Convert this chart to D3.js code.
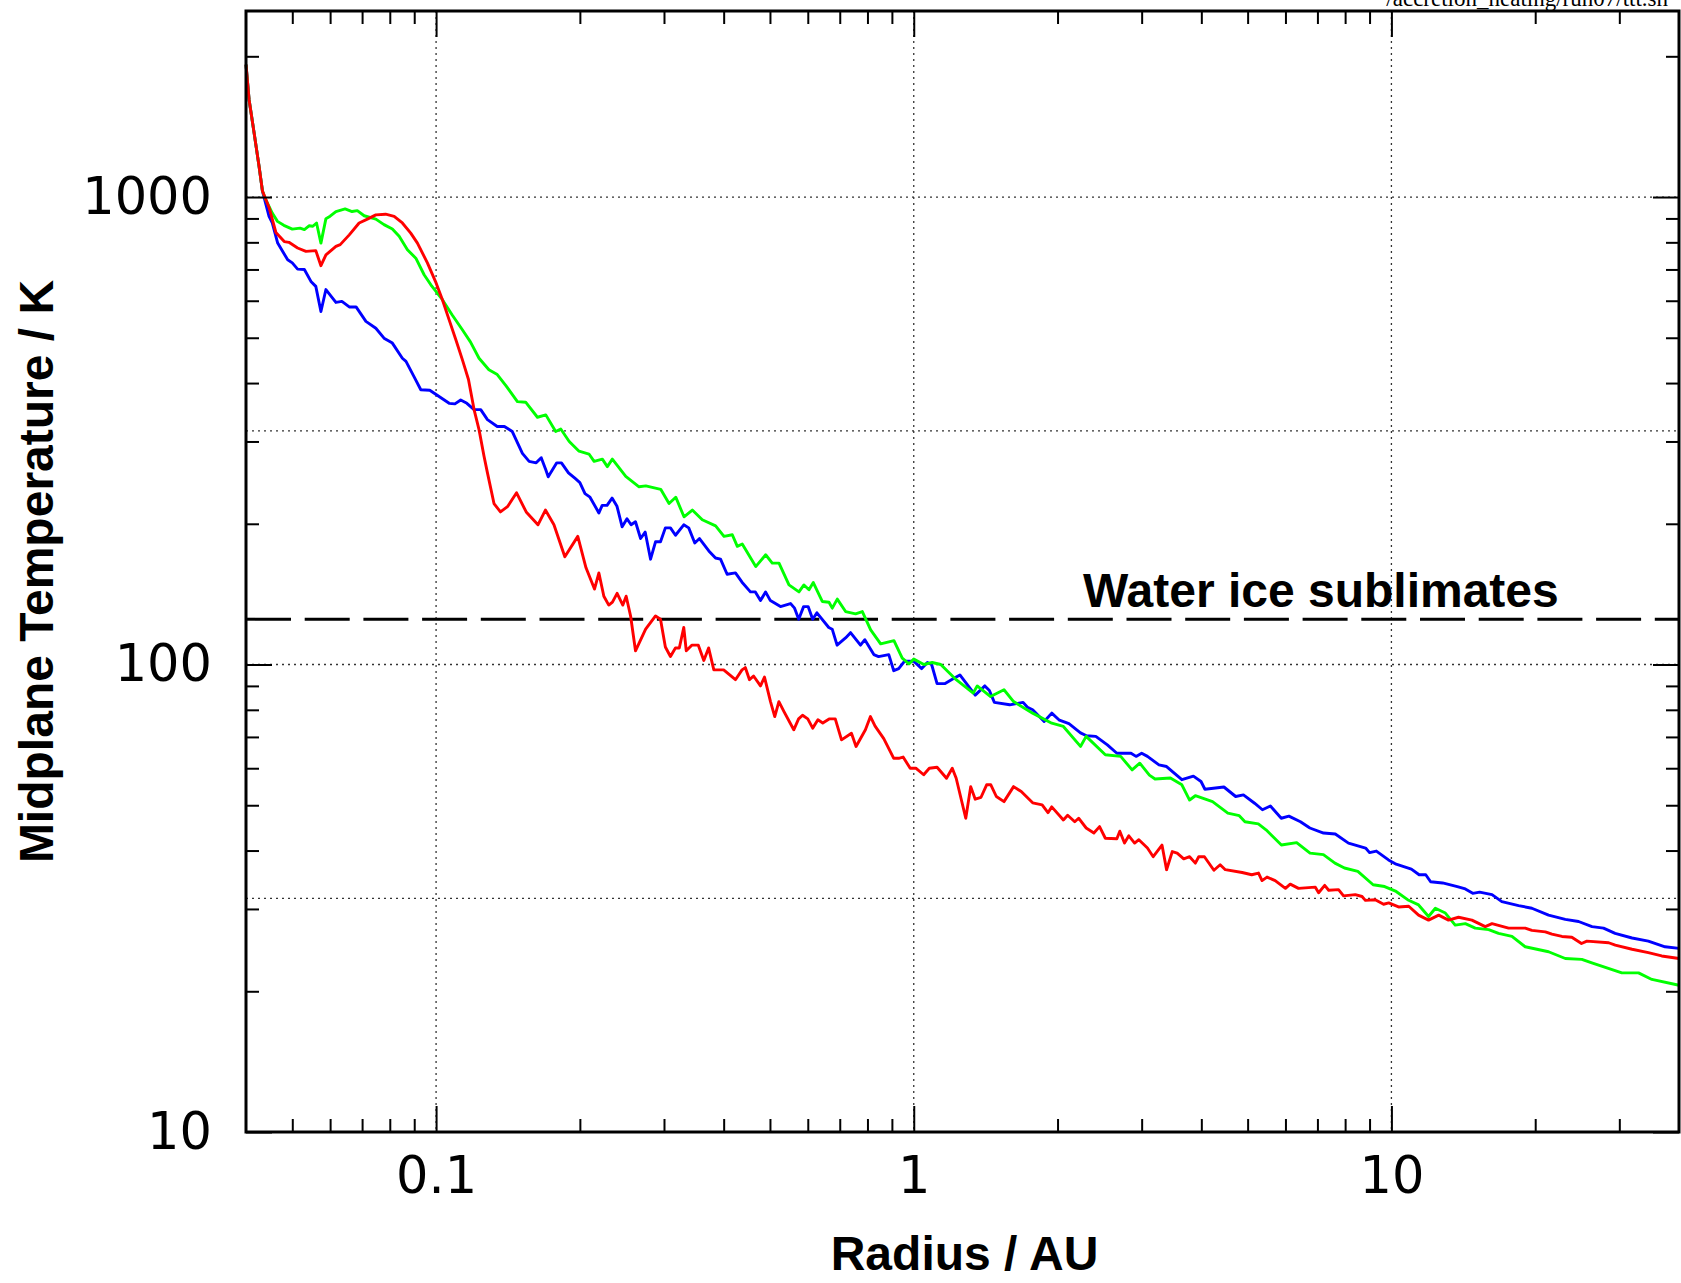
<!DOCTYPE html>
<html>
<head>
<meta charset="utf-8">
<script src="https://cdn.jsdelivr.net/npm/d3@7"></script>
<style>
  html, body { margin: 0; padding: 0; background: #fff; }
  svg { display: block; }
</style>
</head>
<body>
<div id="chart"></div>
<script>
// Midplane temperature against radius, three runs: [radius AU, temperature K]
const blueRun = [
  [0.04, 1920], [0.0406, 1615], [0.0416, 1370], [0.0426, 1163], [0.0433, 1030],
  [0.0447, 909], [0.0454, 880], [0.0466, 797], [0.0489, 734], [0.05, 723],
  [0.0513, 701], [0.053, 700], [0.0547, 660], [0.056, 644], [0.0574, 569],
  [0.0588, 634], [0.0617, 595], [0.0635, 598], [0.0658, 582], [0.068, 582],
  [0.0713, 542], [0.0748, 524], [0.0778, 499], [0.081, 487], [0.085, 452],
  [0.0865, 445], [0.0899, 413], [0.0929, 387], [0.097, 386], [0.1, 378],
  [0.1065, 362], [0.1095, 361], [0.1126, 368], [0.116, 362], [0.1201, 351],
  [0.124, 351], [0.1281, 334], [0.1343, 323], [0.139, 323], [0.1444, 315],
  [0.1516, 283], [0.1566, 272], [0.162, 270], [0.166, 277], [0.1697, 261],
  [0.1717, 252], [0.1789, 270], [0.183, 270], [0.1893, 257], [0.1955, 250],
  [0.2, 245], [0.205, 232], [0.21, 228], [0.2192, 211], [0.2227, 219],
  [0.228, 219], [0.2336, 227], [0.2392, 218], [0.2452, 197], [0.251, 205],
  [0.256, 199], [0.2615, 202], [0.268, 186], [0.274, 192], [0.2812, 168],
  [0.288, 183], [0.295, 183], [0.302, 196], [0.3095, 196], [0.3171, 189],
  [0.33, 199], [0.338, 196], [0.348, 182], [0.356, 186], [0.3724, 175],
  [0.3846, 169], [0.394, 168], [0.4067, 156], [0.4234, 157], [0.437, 150],
  [0.4551, 143], [0.466, 143], [0.4777, 137], [0.4895, 143], [0.501, 137],
  [0.526, 133], [0.552, 135], [0.563, 132], [0.5743, 125], [0.588, 133],
  [0.601, 133], [0.6144, 125], [0.627, 129], [0.6639, 120], [0.675, 119],
  [0.691, 110], [0.7198, 114], [0.7373, 117], [0.7736, 110], [0.79, 113],
  [0.8249, 105], [0.844, 104], [0.8866, 105], [0.9081, 97], [0.93, 98],
  [0.956, 101.6], [1.0, 101.6], [1.039, 98], [1.068, 101], [1.09, 100],
  [1.119, 91], [1.161, 91], [1.204, 93], [1.249, 95], [1.345, 86],
  [1.409, 90], [1.44, 88], [1.475, 83], [1.588, 82], [1.694, 83],
  [1.73, 81], [1.774, 80], [1.875, 75.5], [1.945, 78.7], [2.018, 76],
  [2.113, 74.7], [2.234, 71.4], [2.3, 70.4], [2.405, 70.2], [2.543, 67.3],
  [2.662, 64.6], [2.85, 64.6], [2.92, 63.6], [3.0, 64.6], [3.085, 63.6],
  [3.261, 61], [3.383, 60.5], [3.642, 56.7], [3.85, 57.7], [3.994, 56.2],
  [4.07, 54.1], [4.46, 54.7], [4.72, 52.2], [4.9, 52.6], [5.17, 50.5],
  [5.37, 48.9], [5.58, 49.8], [5.88, 46.9], [6.1, 47.4], [6.45, 46.1],
  [6.75, 44.7], [7.21, 43.6], [7.63, 43.4], [8.13, 41.5], [8.83, 40.5],
  [9.0, 39.6], [9.3, 39.9], [9.86, 38.2], [10.23, 37.4], [11.01, 36.5],
  [11.43, 35.5], [11.8, 35.5], [12.08, 34.3], [12.8, 34.1], [13.74, 33.5],
  [14.28, 33.1], [14.8, 32.4], [15.3, 32.6], [16.24, 32.2], [17.03, 31.1],
  [18.46, 30.5], [19.68, 30.1], [21.33, 29.1], [23.12, 28.5], [24.65, 28.2],
  [26.3, 27.5], [27.8, 27.3], [29.4, 26.6], [31.9, 26.0], [34.5, 25.6],
  [37.4, 24.9], [40, 24.7]
];

const greenRun = [
  [0.04, 1920], [0.0406, 1615], [0.0416, 1370], [0.0426, 1163], [0.0433, 1030],
  [0.044, 987], [0.0454, 924], [0.04655, 887], [0.048, 870], [0.05, 854],
  [0.0519, 858], [0.053, 852], [0.0542, 868], [0.0552, 866], [0.0562, 880],
  [0.0574, 797], [0.0588, 899], [0.06, 910], [0.0617, 931], [0.0645, 943],
  [0.0667, 931], [0.0684, 935], [0.0707, 912], [0.0748, 897], [0.0778, 873],
  [0.081, 854], [0.0837, 824], [0.0871, 771], [0.0907, 740], [0.0944, 682],
  [0.0975, 649], [0.1006, 623], [0.1031, 603], [0.108, 560], [0.1135, 520],
  [0.118, 490], [0.123, 452], [0.129, 427], [0.1343, 417], [0.14, 395],
  [0.148, 365], [0.154, 364], [0.163, 338], [0.1697, 342], [0.178, 315],
  [0.1824, 319], [0.19, 300], [0.1992, 286], [0.209, 282], [0.2142, 272],
  [0.2229, 275], [0.2283, 265], [0.2339, 275], [0.2495, 252.5], [0.266, 240],
  [0.2748, 241], [0.2953, 237], [0.3074, 221], [0.3175, 228], [0.3304, 207],
  [0.3439, 214], [0.3608, 204], [0.3848, 198], [0.4006, 188], [0.417, 189.5],
  [0.4272, 179], [0.4375, 181], [0.4669, 162], [0.4898, 171.7], [0.5056, 164.8],
  [0.5223, 164.8], [0.548, 148], [0.575, 143], [0.589, 148], [0.6035, 144.5],
  [0.6162, 149.7], [0.6434, 136.4], [0.6646, 135.9], [0.6752, 132], [0.6917, 138],
  [0.72, 129.8], [0.7555, 128.3], [0.7805, 129.8], [0.8125, 118.6], [0.8525, 110.7],
  [0.909, 112.5], [0.946, 103.2], [0.977, 100.3], [1.0, 102.7], [1.05, 100],
  [1.093, 101], [1.139, 100], [1.227, 92.8], [1.332, 86.9], [1.358, 90],
  [1.448, 85.4], [1.545, 88.3], [1.618, 83.3], [1.774, 78.7], [1.945, 74.9],
  [2.057, 73.7], [2.234, 66.8], [2.296, 70.2], [2.518, 64.1], [2.712, 63.6],
  [2.865, 59.5], [2.973, 61.5], [3.114, 58], [3.2, 56.9], [3.446, 57.2],
  [3.642, 55.3], [3.78, 51.3], [3.886, 52.4], [4.222, 50.9], [4.545, 48.1],
  [4.803, 47.5], [4.936, 46.1], [5.265, 45.6], [5.464, 44.3], [5.884, 41.1],
  [6.333, 41.6], [6.755, 39.5], [7.205, 39.2], [7.616, 37.6], [7.974, 36.7],
  [8.506, 36.1], [9.156, 33.8], [9.678, 33.5], [10.23, 32.7], [10.81, 31.4],
  [11.4, 30.6], [11.96, 28.9], [12.36, 30.1], [12.97, 29.4], [13.6, 27.7],
  [14.28, 27.9], [14.98, 27.3], [15.98, 27.1], [16.76, 26.6], [17.88, 26.2],
  [19.06, 24.9], [21.33, 24.3], [23.12, 23.5], [25.04, 23.4], [26.28, 23.0],
  [30.37, 21.9], [32.91, 21.9], [35.1, 21.2], [40, 20.6]
];

const redRun = [
  [0.04, 1920], [0.0406, 1615], [0.0416, 1370], [0.0426, 1163], [0.0433, 1030],
  [0.0447, 950], [0.0462, 840], [0.0481, 803], [0.0492, 800], [0.0513, 778],
  [0.0534, 765], [0.056, 768], [0.0574, 713], [0.0588, 752], [0.0617, 784],
  [0.063, 791], [0.0658, 830], [0.069, 880], [0.0718, 897], [0.0748, 916],
  [0.0784, 919], [0.0817, 909], [0.085, 880], [0.0885, 837], [0.0914, 797],
  [0.0959, 723], [0.1, 655], [0.1031, 603], [0.1065, 546], [0.11, 495],
  [0.1135, 449], [0.1169, 407], [0.1201, 351], [0.123, 318], [0.126, 279],
  [0.1281, 257], [0.1322, 221], [0.1364, 212], [0.1413, 218], [0.1474, 233],
  [0.1544, 212], [0.1634, 199], [0.1694, 214], [0.1765, 199], [0.186, 170],
  [0.198, 188], [0.206, 161], [0.2146, 145], [0.2192, 157], [0.2245, 140],
  [0.2299, 134], [0.234, 136], [0.2393, 142], [0.246, 134], [0.25, 140],
  [0.2554, 127], [0.2615, 107], [0.2746, 119], [0.288, 127], [0.295, 125],
  [0.302, 109], [0.3095, 104], [0.317, 108.5], [0.323, 108.5], [0.33, 120],
  [0.334, 107], [0.343, 110], [0.354, 110], [0.3635, 102], [0.372, 108.5],
  [0.3815, 97.4], [0.4, 97.4], [0.4234, 92.8], [0.437, 97.4], [0.444, 98.5],
  [0.453, 92.8], [0.462, 94.5], [0.4777, 90], [0.487, 94], [0.5013, 83.3],
  [0.5117, 77.4], [0.522, 83.3], [0.535, 79.3], [0.5608, 72.5], [0.574, 76.5],
  [0.585, 77.9], [0.6, 76.5], [0.6144, 73.1], [0.63, 76.2], [0.645, 75],
  [0.665, 76.5], [0.685, 76.5], [0.706, 69], [0.7406, 71.3], [0.7572, 66.8],
  [0.7922, 72.5], [0.8116, 77.4], [0.83, 73.8], [0.8654, 69.4], [0.9081, 63],
  [0.93, 63], [0.95, 63.4], [0.983, 60], [1.01, 60], [1.049, 58.1],
  [1.078, 60], [1.119, 60.3], [1.171, 57.1], [1.204, 60], [1.227, 57.1],
  [1.285, 46.9], [1.316, 54.8], [1.345, 51.5], [1.383, 52], [1.421, 55.3],
  [1.45, 55.3], [1.489, 52.2], [1.545, 50.9], [1.618, 54.8], [1.679, 53.5],
  [1.774, 50.6], [1.857, 50.1], [1.91, 48.2], [1.945, 49.6], [2.057, 46.5],
  [2.1, 47.6], [2.173, 46.1], [2.214, 46.9], [2.296, 44.7], [2.383, 43.6],
  [2.449, 45], [2.518, 42.5], [2.662, 42.4], [2.7, 44], [2.762, 41.5],
  [2.82, 43], [2.9, 41.5], [2.96, 42.2], [3.085, 40.5], [3.172, 38.8],
  [3.309, 41.1], [3.383, 36.4], [3.477, 39.8], [3.56, 39.5], [3.675, 38.4],
  [3.78, 38.8], [3.886, 37.6], [3.95, 38.8], [4.06, 38.8], [4.25, 36.3],
  [4.38, 37.3], [4.49, 36.4], [4.87, 35.9], [5.1, 35.5], [5.27, 35.8],
  [5.36, 34.5], [5.49, 35.1], [5.71, 34.5], [6.0, 33.2], [6.14, 33.9],
  [6.39, 33.2], [6.93, 33.4], [7.04, 32.5], [7.25, 33.7], [7.39, 32.9],
  [7.75, 33], [7.94, 32], [8.4, 32.2], [8.68, 31.9], [8.82, 31.3],
  [9.25, 31.4], [9.63, 30.7], [9.87, 30.9], [10.35, 30.3], [10.87, 30.4],
  [11.4, 29.1], [11.96, 28.4], [12.56, 29.1], [13.17, 28.4], [13.82, 28.8],
  [14.74, 28.4], [15.72, 27.5], [16.24, 27.9], [17.59, 27.3], [19.06, 27.3],
  [19.68, 27.0], [21.0, 26.8], [21.68, 26.5], [22.75, 26.2], [23.86, 26.1],
  [25.0, 25.3], [25.66, 25.6], [28.5, 25.4], [29.42, 25.1], [31.9, 24.6],
  [34.5, 24.2], [36.8, 23.8], [40, 23.5]
];

// axes
const xMajor = [0.1, 1, 10];
const xMinor = [0.05, 0.06, 0.07, 0.08, 0.09, 0.2, 0.3, 0.4, 0.5, 0.6, 0.7, 0.8, 0.9,
                2, 3, 4, 5, 6, 7, 8, 9, 20, 30];
const yMajor = [10, 100, 1000];
const yMinor = [20, 30, 40, 50, 60, 70, 80, 90, 200, 300, 400, 500, 600, 700, 800, 900, 2000];
const yHalfGrid = [31.62, 316.2];

const iceTemp = 125;
const iceLabel = 'Water ice sublimates';
const scriptPath = '/accretion_heating/run07/ttt.sh';

const width = 1681;
const height = 1283;
const margin = { top: 11, right: 2, bottom: 151, left: 246 };

const svg = d3.select('#chart')
    .append('svg')
    .attr('width', width)
    .attr('height', height);

const x = d3.scaleLog()
    .domain([0.04, 40])
    .range([margin.left, width - margin.right]);

const y = d3.scaleLog()
    .domain([10, 2500])
    .range([height - margin.bottom, margin.top]);

const [x0, x1] = x.range();
const [y0, y1] = y.range();

// dotted grid
const grid = svg.append('g')
    .attr('stroke', '#333')
    .attr('stroke-width', 1.3)
    .attr('stroke-dasharray', '2,4');

grid.selectAll('.gx')
    .data(xMajor)
    .enter()
    .append('line')
    .attr('x1', d => x(d)).attr('x2', d => x(d))
    .attr('y1', y1).attr('y2', y0);

grid.selectAll('.gy')
    .data(yMajor.slice(1).concat(yHalfGrid))
    .enter()
    .append('line')
    .attr('x1', x0).attr('x2', x1)
    .attr('y1', d => y(d)).attr('y2', d => y(d));

// water ice line
svg.append('line')
    .attr('x1', x0).attr('x2', x1)
    .attr('y1', y(iceTemp)).attr('y2', y(iceTemp))
    .attr('stroke', '#000')
    .attr('stroke-width', 3)
    .attr('stroke-dasharray', '45,13.7');

svg.append('text')
    .attr('x', 1083)
    .attr('y', y(iceTemp) - 12)
    .attr('font-family', '"Liberation Sans", Arial, sans-serif')
    .attr('font-weight', 'bold')
    .attr('font-size', '48px')
    .text(iceLabel);

// curves
const line = d3.line()
    .x(d => x(d[0]))
    .y(d => y(d[1]));

const runs = [
    { data: blueRun, color: '#0000ff' },
    { data: greenRun, color: '#00ff00' },
    { data: redRun, color: '#ff0000' }
];

svg.append('g')
    .selectAll('path')
    .data(runs)
    .enter()
    .append('path')
    .attr('d', d => line(d.data))
    .attr('fill', 'none')
    .attr('stroke', d => d.color)
    .attr('stroke-width', 2.9)
    .attr('stroke-linejoin', 'round');

// ticks, all pointing inwards
function addAxis(axis, tx, ty) {
    const g = svg.append('g')
        .attr('transform', `translate(${tx},${ty})`)
        .call(axis);
    g.select('.domain').remove();
    g.selectAll('.tick line')
        .attr('stroke', '#000')
        .attr('stroke-width', 2);
    g.selectAll('.tick text')
        .attr('fill', '#000')
        .attr('font-family', '"DejaVu Sans", sans-serif')
        .attr('font-size', '51px');
    return g;
}

const fmt = d3.format('~g');

addAxis(d3.axisBottom(x).tickValues(xMajor).tickSize(-26).tickPadding(25).tickFormat(fmt), 0, y0);
addAxis(d3.axisBottom(x).tickValues(xMinor).tickSize(-13).tickFormat(''), 0, y0);
addAxis(d3.axisTop(x).tickValues(xMajor).tickSize(-26).tickFormat(''), 0, y1);
addAxis(d3.axisTop(x).tickValues(xMinor).tickSize(-13).tickFormat(''), 0, y1);

addAxis(d3.axisLeft(y).tickValues(yMajor).tickSize(-26).tickPadding(34).tickFormat(fmt), x0, 0);
addAxis(d3.axisLeft(y).tickValues(yMinor).tickSize(-13).tickFormat(''), x0, 0);
addAxis(d3.axisRight(y).tickValues(yMajor).tickSize(-26).tickFormat(''), x1, 0);
addAxis(d3.axisRight(y).tickValues(yMinor).tickSize(-13).tickFormat(''), x1, 0);

// frame
svg.append('rect')
    .attr('x', x0)
    .attr('y', y1)
    .attr('width', x1 - x0)
    .attr('height', y0 - y1)
    .attr('fill', 'none')
    .attr('stroke', '#000')
    .attr('stroke-width', 3);

// axis titles
svg.append('text')
    .attr('x', (x0 + x1) / 2 + 2)
    .attr('y', 1270)
    .attr('text-anchor', 'middle')
    .attr('font-family', '"Liberation Sans", Arial, sans-serif')
    .attr('font-weight', 'bold')
    .attr('font-size', '48px')
    .text('Radius / AU');

svg.append('text')
    .attr('transform', `translate(53,${(y0 + y1) / 2}) rotate(-90)`)
    .attr('text-anchor', 'middle')
    .attr('font-family', '"Liberation Sans", Arial, sans-serif')
    .attr('font-weight', 'bold')
    .attr('font-size', '48px')
    .text('Midplane Temperature / K');

// plot script path, cut off at the top edge as in the original
svg.append('text')
    .attr('x', 1668)
    .attr('y', 6)
    .attr('text-anchor', 'end')
    .attr('font-family', '"Liberation Serif", "Times New Roman", serif')
    .attr('font-size', '23px')
    .text(scriptPath);
</script>
</body>
</html>
